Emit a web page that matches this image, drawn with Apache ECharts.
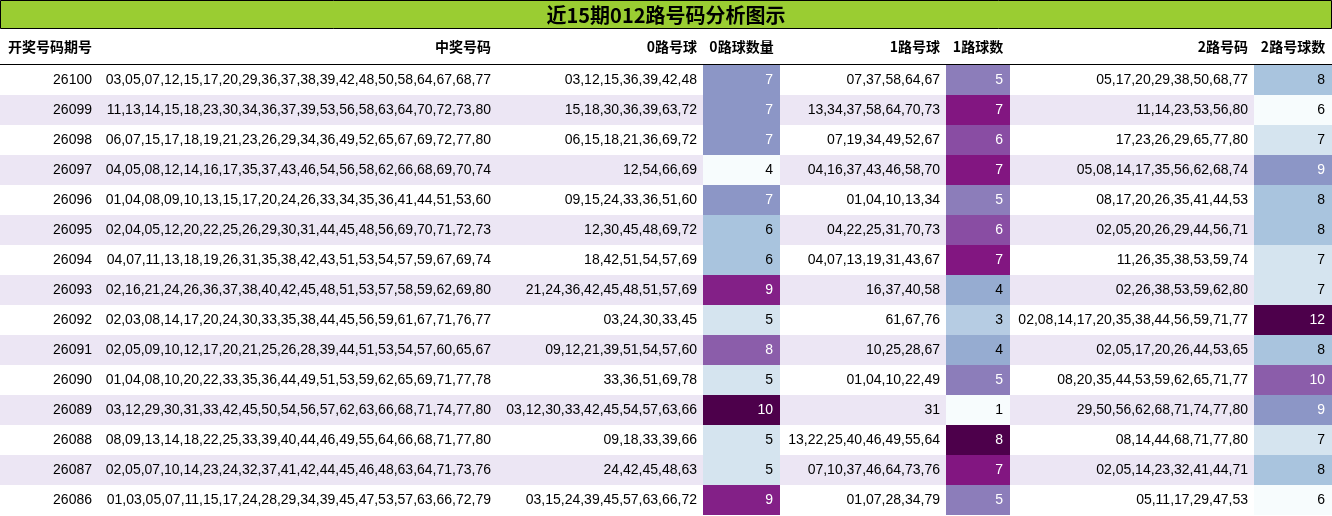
<!DOCTYPE html><html><head><meta charset="utf-8"><script src="https://cdn.jsdelivr.net/npm/echarts@6/dist/echarts.min.js"></script>
<style>html,body{margin:0;padding:0;background:#fff}#c{width:1332px;height:516px}</style></head><body><div id="c"></div><script>
const issues=['26100','26099','26098','26097','26096','26095','26094','26093','26092','26091','26090','26089','26088','26087','26086'];
const winning=['03,05,07,12,15,17,20,29,36,37,38,39,42,48,50,58,64,67,68,77','11,13,14,15,18,23,30,34,36,37,39,53,56,58,63,64,70,72,73,80','06,07,15,17,18,19,21,23,26,29,34,36,49,52,65,67,69,72,77,80','04,05,08,12,14,16,17,35,37,43,46,54,56,58,62,66,68,69,70,74','01,04,08,09,10,13,15,17,20,24,26,33,34,35,36,41,44,51,53,60','02,04,05,12,20,22,25,26,29,30,31,44,45,48,56,69,70,71,72,73','04,07,11,13,18,19,26,31,35,38,42,43,51,53,54,57,59,67,69,74','02,16,21,24,26,36,37,38,40,42,45,48,51,53,57,58,59,62,69,80','02,03,08,14,17,20,24,30,33,35,38,44,45,56,59,61,67,71,76,77','02,05,09,10,12,17,20,21,25,26,28,39,44,51,53,54,57,60,65,67','01,04,08,10,20,22,33,35,36,44,49,51,53,59,62,65,69,71,77,78','03,12,29,30,31,33,42,45,50,54,56,57,62,63,66,68,71,74,77,80','08,09,13,14,18,22,25,33,39,40,44,46,49,55,64,66,68,71,77,80','02,05,07,10,14,23,24,32,37,41,42,44,45,46,48,63,64,71,73,76','01,03,05,07,11,15,17,24,28,29,34,39,45,47,53,57,63,66,72,79'];
const route0=['03,12,15,36,39,42,48','15,18,30,36,39,63,72','06,15,18,21,36,69,72','12,54,66,69','09,15,24,33,36,51,60','12,30,45,48,69,72','18,42,51,54,57,69','21,24,36,42,45,48,51,57,69','03,24,30,33,45','09,12,21,39,51,54,57,60','33,36,51,69,78','03,12,30,33,42,45,54,57,63,66','09,18,33,39,66','24,42,45,48,63','03,15,24,39,45,57,63,66,72'];
const count0=[7,7,7,4,7,6,6,9,5,8,5,10,5,5,9];
const route1=['07,37,58,64,67','13,34,37,58,64,70,73','07,19,34,49,52,67','04,16,37,43,46,58,70','01,04,10,13,34','04,22,25,31,70,73','04,07,13,19,31,43,67','16,37,40,58','61,67,76','10,25,28,67','01,04,10,22,49','31','13,22,25,40,46,49,55,64','07,10,37,46,64,73,76','01,07,28,34,79'];
const count1=[5,7,6,7,5,6,7,4,3,4,5,1,8,7,5];
const route2=['05,17,20,29,38,50,68,77','11,14,23,53,56,80','17,23,26,29,65,77,80','05,08,14,17,35,56,62,68,74','08,17,20,26,35,41,44,53','02,05,20,26,29,44,56,71','11,26,35,38,53,59,74','02,26,38,53,59,62,80','02,08,14,17,20,35,38,44,56,59,71,77','02,05,17,20,26,44,53,65','08,20,35,44,53,59,62,65,71,77','29,50,56,62,68,71,74,77,80','08,14,44,68,71,77,80','02,05,14,23,32,41,44,71','05,11,17,29,47,53'];
const count2=[8,6,7,9,8,8,7,7,12,8,10,9,7,8,6];
const headers=['开奖号码期号','中奖号码','0路号球','0路球数量','1路号球','1路球数','2路号码','2路号球数'];
const title='近15期012路号码分析图示';

// layout: column [left,right]
const cols=[[0,98],[98,497],[497,703],[703,780],[780,946],[946,1010],[1010,1254],[1254,1332]];
const BuPu=['#f7fcfd','#e0ecf4','#bfd3e6','#9ebcda','#8c96c6','#8c6bb1','#88419d','#810f7c','#4d004b'];
function hex(c){return [1,3,5].map(i=>parseInt(c.substr(i,2),16));}
function scale(v,mn,mx){let t=(v-mn)/(mx-mn);t=Math.max(0,Math.min(1,t))*(BuPu.length-1);const i=Math.min(Math.floor(t),BuPu.length-2),f=t-i;const a=hex(BuPu[i]),b=hex(BuPu[i+1]);return 'rgb('+a.map((x,k)=>Math.round(x+(b[k]-x)*f)).join(',')+')';}
const font='14px "Liberation Sans", Arial, sans-serif';
function textSeries(ci,arr,align){
  return {type:'custom',coordinateSystem:'cartesian2d',data:arr.map((v,i)=>[i,v]),silent:true,
   renderItem:(p,api)=>{const i=api.value(0);const r=api.coord([cols[ci][1],i]);const sz=api.size([0,1]);
     const children=[];
     return {type:'text',style:{text:arr[i],x:align==='left'?api.coord([cols[ci][0],i])[0]+8:r[0]-6,y:r[1],align:align||'right',verticalAlign:'middle',font:font,fill:'#000'}};}};
}
function countSeries(ci,arr){
  const mn=Math.min(...arr),mx=Math.max(...arr);
  return {type:'custom',data:arr.map((v,i)=>[i,v]),silent:true,
   renderItem:(p,api)=>{const i=api.value(0),v=arr[i];const l=api.coord([cols[ci][0],i]),r=api.coord([cols[ci][1],i]);const h=api.size([0,1])[1];
     const t=(v-mn)/(mx-mn);
     return {type:'group',children:[
      {type:'rect',shape:{x:l[0],y:l[1]-h/2,width:r[0]-l[0],height:h},style:{fill:scale(v,mn,mx)}},
      {type:'text',style:{text:String(v),x:r[0]-7,y:r[1],align:'right',verticalAlign:'middle',font:font,fill:t>0.45?'#fff':'#000'}}]};}};
}
const rowBg={type:'custom',data:issues.map((v,i)=>[i]),silent:true,z:1,
  renderItem:(p,api)=>{const i=api.value(0);const l=api.coord([0,i]);const r=api.coord([1332,i]);const h=api.size([0,1])[1];
   return {type:'rect',shape:{x:l[0],y:l[1]-h/2,width:r[0]-l[0],height:h},style:{fill:i%2?'#ece6f4':'#ffffff'}};}};
const series=[rowBg,textSeries(0,issues),textSeries(1,winning),textSeries(2,route0),countSeries(3,count0),textSeries(4,route1),countSeries(5,count1),textSeries(6,route2),countSeries(7,count2)];
series.forEach((s,k)=>{if(k>0)s.z=2;});
const hdr=headers.map((h,k)=>{const center=(k===3||k===5||k===7);const x=k===0?8:center?(cols[k][0]+cols[k][1])/2:cols[k][1]-6;
  return {type:'text',x:x,y:47,style:{text:h,align:k===0?'left':center?'center':'right',verticalAlign:'middle',font:'bold 14px "Noto Sans CJK SC", sans-serif',fill:'#000'}};});
const chart=echarts.init(document.getElementById('c'));
chart.setOption({animation:false,
 grid:{left:0,right:0,top:65,bottom:1},
 xAxis:{type:'value',min:0,max:1332,show:false},
 yAxis:{type:'category',data:issues.map((v,i)=>i),inverse:true,show:false},
 graphic:[{type:'rect',shape:{x:0.5,y:0.5,width:1331,height:28},style:{fill:'#9acd32',stroke:'#000',lineWidth:1}},
  {type:'text',x:666,y:15,style:{text:title,align:'center',verticalAlign:'middle',font:'bold 20px "Noto Sans CJK SC", sans-serif',fill:'#000'}},
  {type:'line',shape:{x1:0,y1:64.5,x2:1332,y2:64.5},style:{stroke:'#000',lineWidth:1}},...hdr],
 series:series});
</script></body></html>
